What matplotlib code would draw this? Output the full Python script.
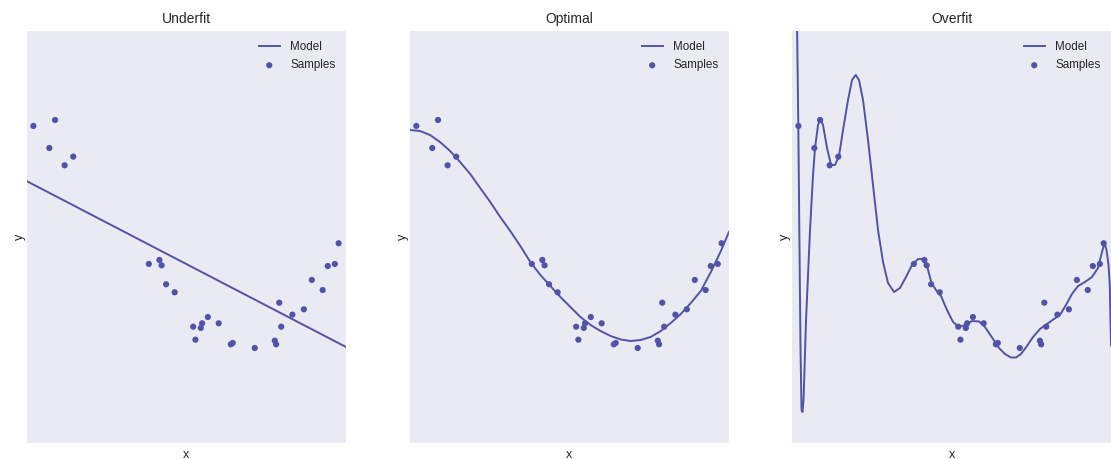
import matplotlib
matplotlib.use("Agg")
import matplotlib.pyplot as plt
import numpy as np

plt.rcParams['font.family'] = ['Liberation Sans', 'DejaVu Sans']
plt.rcParams['text.color'] = '#262626'
plt.rcParams['axes.labelcolor'] = '#262626'

# samples (same in all three panels)
sample_x = [0.020, 0.070, 0.088, 0.118, 0.145, 0.382, 0.415, 0.422, 0.436, 0.463,
            0.521, 0.528, 0.545, 0.549, 0.567, 0.601, 0.639, 0.645, 0.714, 0.777,
            0.781, 0.791, 0.797, 0.832, 0.868, 0.893, 0.927, 0.943, 0.965, 0.977]
sample_y = [1.078, 0.864, 1.136, 0.696, 0.780, -0.262, -0.223, -0.275, -0.459, -0.537,
            -0.871, -0.997, -0.883, -0.838, -0.777, -0.838, -1.042, -1.029, -1.078, -1.007,
            -1.042, -0.638, -0.871, -0.754, -0.702, -0.417, -0.515, -0.282, -0.262, -0.061]

# model curves
underfit_x = [0.0, 1.0]
underfit_y = [0.541, -1.068]

optimal_x = [0.0, 0.0314, 0.0629, 0.0943, 0.1258, 0.1572, 0.1887, 0.2201, 0.2516, 0.2830,
             0.3145, 0.3459, 0.3774, 0.4088, 0.4403, 0.4717, 0.5031, 0.5346, 0.5660, 0.5975,
             0.6289, 0.6604, 0.6918, 0.7233, 0.7547, 0.7862, 0.8176, 0.8491, 0.8805, 0.9119,
             0.9434, 0.9748, 1.0]
optimal_y = [1.039, 1.029, 0.990, 0.922, 0.835, 0.728, 0.612, 0.476, 0.340, 0.194,
             0.058, -0.087, -0.243, -0.369, -0.476, -0.583, -0.680, -0.777, -0.854, -0.913,
             -0.961, -0.995, -1.010, -1.000, -0.971, -0.913, -0.835, -0.748, -0.641, -0.524,
             -0.340, -0.136, 0.049]

overfit_x = [0.014, 0.0197, 0.0229, 0.0266, 0.0298, 0.0329, 0.0361, 0.0439, 0.0564, 0.0658,
             0.0721, 0.0815, 0.0893, 0.0972, 0.1097, 0.1223, 0.1348, 0.1473, 0.1599, 0.1755,
             0.1881, 0.1997, 0.2100, 0.2226, 0.2382, 0.2539, 0.2696, 0.2853, 0.3009, 0.3198,
             0.3386, 0.3574, 0.3762, 0.3950, 0.4075, 0.4232, 0.4373, 0.4514, 0.4671, 0.4859,
             0.5047, 0.5235, 0.5423, 0.5643, 0.5862, 0.6050, 0.6301, 0.6489, 0.6677, 0.6865,
             0.7022, 0.7179, 0.7367, 0.7555, 0.7774, 0.7994, 0.8213, 0.8401, 0.8589, 0.8777,
             0.8966, 0.9185, 0.9404, 0.9592, 0.9718, 0.9796, 0.9859, 0.9922, 0.9960, 1.0]
overfit_y = [2.5, 1.078, 0.068, -1.097, -1.680, -1.699, -1.583, -0.806, 0.068, 0.602,
             0.864, 1.087, 1.146, 1.087, 0.864, 0.699, 0.699, 0.786, 1.039, 1.330,
             1.524, 1.573, 1.524, 1.330, 0.942, 0.505, 0.068, -0.243, -0.447, -0.534,
             -0.495, -0.388, -0.272, -0.214, -0.214, -0.282, -0.447, -0.515, -0.573, -0.709,
             -0.825, -0.874, -0.854, -0.816, -0.820, -0.874, -0.990, -1.078, -1.136, -1.170,
             -1.170, -1.136, -1.058, -0.971, -0.893, -0.845, -0.796, -0.757, -0.660, -0.553,
             -0.476, -0.437, -0.388, -0.301, -0.146, -0.058, -0.126, -0.272, -0.450, -1.050]

titles = ["Underfit", "Optimal", "Overfit"]
models = [(underfit_x, underfit_y), (optimal_x, optimal_y), (overfit_x, overfit_y)]

color = '#5252A8'
fig = plt.figure(figsize=(11.11, 4.59), dpi=100)
lefts = [0.0243, 0.369, 0.7129]

for left, title, (mx, my) in zip(lefts, titles, models):
    ax = fig.add_axes([left, 0.0349, 0.2871, 0.8976])
    ax.set_facecolor('#EAEAF2')
    for s in ax.spines.values():
        s.set_visible(False)
    ax.plot(mx, my, color=color, lw=1.4, label="Model", solid_joinstyle='round')
    ax.scatter(sample_x, sample_y, color=color, s=20, edgecolors='none', label="Samples")
    ax.set_xlim(0, 1)
    ax.set_ylim(-2, 2)
    ax.set_xticks([])
    ax.set_yticks([])
    ax.set_xlabel("x", fontsize=9, labelpad=4)
    ax.set_ylabel("y", fontsize=9, labelpad=1)
    ax.set_title(title, fontsize=10, pad=6)
    ax.legend(loc='upper right', frameon=False, fontsize=8.4, scatterpoints=1,
              handlelength=1.8, handletextpad=0.9)

plt.savefig("out.png", dpi=100)
